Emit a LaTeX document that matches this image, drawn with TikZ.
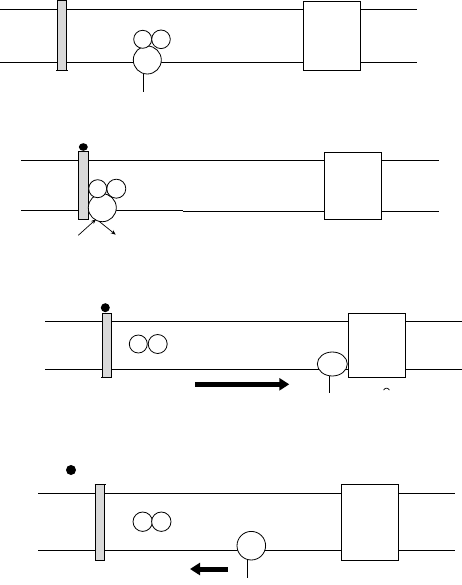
\documentclass[tikz,border=0pt]{standalone}
\usetikzlibrary{arrows.meta}
\begin{document}
\begin{tikzpicture}[x=1pt,y=-1pt,line width=0.9pt,
  rail/.style={draw=black},
  barbox/.style={draw=black,fill=black!15},
  gatebox/.style={draw=black,fill=white},
  circ/.style={draw=black,fill=white,line width=0.8pt},
  dotmark/.style={fill=black},
  stem/.style={draw=black,line width=0.8pt},
  thinarrow/.style={draw=black,line width=0.7pt,-{Stealth[length=5pt,width=4pt]}},
  bigarrow/.style={draw=black,line width=5pt,-{Triangle[length=10pt,width=12pt]}}]
\useasboundingbox (0,0) rectangle (462,585);

% ---------- Panel 1 ----------
\draw[rail] (0,9.5) -- (417,9.5);
\draw[rail] (0,62.5) -- (417,62.5);
\filldraw[barbox] (57.3,0.5) rectangle (66.7,70.7);
\draw (56.3,70.7) -- (67.7,70.7);
\filldraw[gatebox] (303.3,1.3) rectangle (360.3,70.7);
\draw[circ] (147.3,60) circle (14pt);
\draw[circ] (142.7,39.3) circle (9pt);
\draw[circ] (161,39.3) circle (9.3pt);
\draw[stem] (143.3,74) -- (143.3,91.7);

% ---------- Panel 2 ----------
\draw[rail] (21,160.3) -- (438.7,160.3);
\draw[rail] (21,210.3) -- (182.7,210.3);
\draw[rail] (182.7,211) -- (438.7,211);
\filldraw[barbox] (78.7,151.7) rectangle (88,219.3);
\fill[dotmark] (83.3,147) ellipse (4.5pt and 3.8pt);
\filldraw[gatebox] (324.3,152) rectangle (381.7,219.3);
\draw[circ] (102.3,207.7) circle (14pt);
\draw[circ] (97.7,188.7) circle (9pt);
\draw[circ] (116.3,188.7) circle (9.5pt);
\draw[thinarrow] (78.3,235.3) -- (96,219.3);
\draw[thinarrow] (98.7,221) -- (115.7,234.7);

% ---------- Panel 3 ----------
\draw[rail] (45,321.3) -- (462,321.3);
\draw[rail] (45,369.3) -- (462,369.3);
\filldraw[barbox] (102.3,313.3) rectangle (111.3,377.7);
\draw (101.3,377.7) -- (112.3,377.7);
\fill[dotmark] (105.3,307.7) circle (4.5pt);
\filldraw[gatebox] (348.3,313.3) rectangle (405.3,377.7);
\draw[circ] (138.3,344) circle (9pt);
\draw[circ] (157.7,344) circle (9.5pt);
\draw[circ] (332.3,364) ellipse (15pt and 12pt);
\draw[stem] (329.3,376) -- (329.3,393.3);
\draw[bigarrow] (195,384.3) -- (289.3,384.3);
\draw[line width=0.7pt] (383.5,390) .. controls (385.5,387.5) and (387.5,387.5) .. (389.5,390);

% ---------- Panel 4 ----------
\fill[dotmark] (71,470) circle (5pt);
\draw[rail] (38.3,493.3) -- (455,493.3);
\draw[rail] (38.3,550) -- (455,550);
\filldraw[barbox] (95.7,484) rectangle (104.7,560);
\draw (94.7,484) -- (105.7,484);
\filldraw[gatebox] (341,484) rectangle (398.7,560);
\draw[circ] (142.7,521.7) circle (9.7pt);
\draw[circ] (161.3,521.7) circle (9.7pt);
\draw[circ] (251.3,545.7) circle (14.3pt);
\draw[stem] (247,560) -- (247,578.3);
\draw[bigarrow] (227.7,569) -- (190,569);
\end{tikzpicture}
\end{document}
